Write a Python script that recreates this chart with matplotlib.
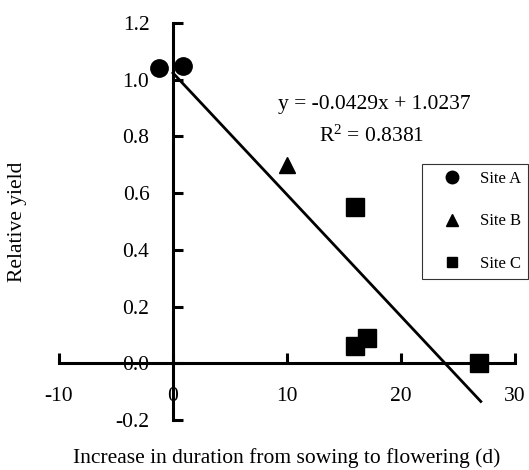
import matplotlib
matplotlib.use("Agg")
import matplotlib.pyplot as plt
from matplotlib.lines import Line2D
import numpy as np

plt.rcParams["font.family"] = ["Liberation Serif", "DejaVu Serif"]
plt.rcParams["mathtext.fontset"] = "custom"
plt.rcParams["mathtext.rm"] = "Liberation Serif"
plt.rcParams["mathtext.it"] = "Liberation Serif:italic"
plt.rcParams["mathtext.default"] = "regular"

# data
site_a_x = [-1.2, 0.9]
site_a_y = [1.04, 1.05]
site_b_x = [10.0]
site_b_y = [0.70]
site_c_x = [16.0, 16.0, 17.0, 26.8]
site_c_y = [0.55, 0.06, 0.09, 0.0]
slope = -0.0429
intercept = 1.0237
fit_x = [0.0, 27.0]
xticks = [-10, 0, 10, 20, 30]
yticks = [-0.2, 0.0, 0.2, 0.4, 0.6, 0.8, 1.0, 1.2]

W, H = 529, 470
fig = plt.figure(figsize=(W / 100, H / 100), dpi=100)
ax = fig.add_axes([59 / W, (H - 420) / H, 456 / W, 397 / H])
ax.set_xlim(-10, 30)
ax.set_ylim(-0.2, 1.2)

for s in ["top", "right"]:
    ax.spines[s].set_visible(False)
ax.spines["left"].set_position(("data", 0))
ax.spines["bottom"].set_position(("data", 0))
ax.spines["left"].set_linewidth(2.2)
ax.spines["bottom"].set_linewidth(2.2)

ax.set_xticks(xticks)
ax.set_yticks(yticks)
ax.set_xticklabels([str(t) for t in xticks])
ax.set_yticklabels([f"{t:.1f}" for t in yticks])
ax.tick_params(axis="both", direction="in", length=7, width=2.2, labelsize=15.5)
ax.tick_params(axis="x", pad=17)
ax.tick_params(axis="y", pad=17)

fx = np.array(fit_x)
ax.plot(fx, slope * fx + intercept, color="black", lw=2.0, zorder=2)

ax.plot(site_a_x, site_a_y, "o", color="black", ms=12.5, zorder=3, clip_on=False)
ax.plot(site_b_x, site_b_y, "^", color="black", ms=12, zorder=3)
ax.plot(site_c_x, site_c_y, "s", color="black", ms=12.5, zorder=3, clip_on=False)

fig.text(374 / W, 1 - 104 / H, "y = -0.0429x + 1.0237", ha="center", va="center", fontsize=15.5)
fig.text(372 / W, 1 - 136 / H, r"R$^{2}$ = 0.8381", ha="center", va="center", fontsize=15.5)

handles = [
    Line2D([], [], marker="o", ls="none", color="black", ms=9),
    Line2D([], [], marker="^", ls="none", color="black", ms=9),
    Line2D([], [], marker="s", ls="none", color="black", ms=7.5),
]
leg = fig.legend(handles, ["Site A", "Site B", "Site C"], loc="upper right",
                 bbox_to_anchor=(528 / W, 1 - 164 / H), fontsize=12,
                 frameon=True, fancybox=False, labelspacing=1.6,
                 handlelength=2.8, handletextpad=0.3, borderpad=0.4,
                 borderaxespad=0)
leg.get_frame().set_edgecolor("black")
leg.get_frame().set_linewidth(0.8)

fig.text(18 / W, 1 - 222 / H, "Relative yield", rotation=90, ha="center", va="center", fontsize=15.5)
fig.text(287 / W, 1 - 458 / H, "Increase in duration from sowing to flowering (d)",
         ha="center", va="center", fontsize=15.5)

fig.savefig("out.png", dpi=100)
